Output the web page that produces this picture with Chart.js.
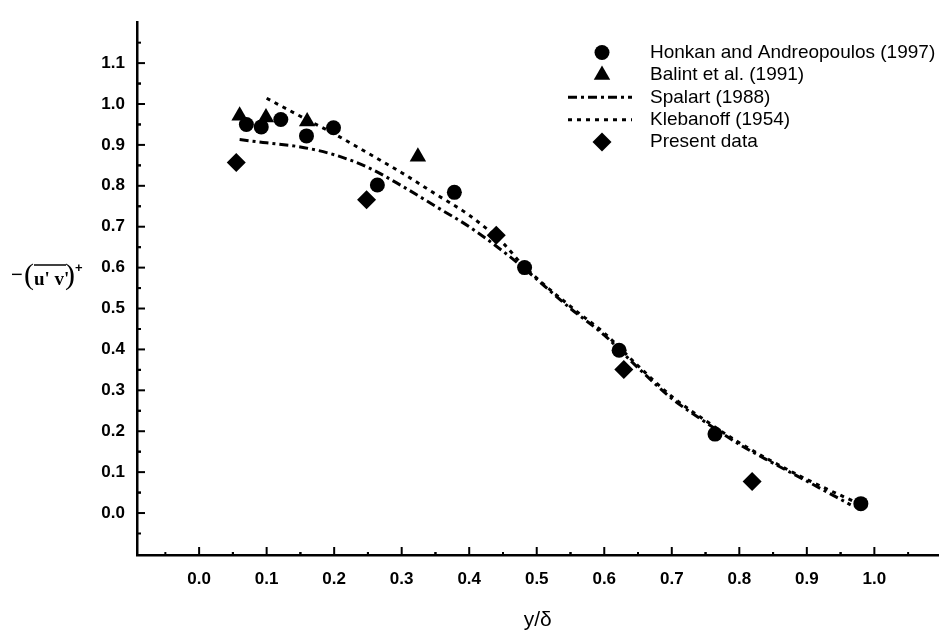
<!DOCTYPE html>
<html>
<head>
<meta charset="utf-8">
<script src="https://cdn.jsdelivr.net/npm/chart.js@4/dist/chart.umd.min.js"></script>
<style>
  html, body { margin: 0; padding: 0; background: #fff; }
  canvas { display: block; }
</style>
</head>
<body>
<canvas id="chart" width="948" height="633"></canvas>
<script>
// values
var honkanX = [0.070, 0.092, 0.121, 0.159, 0.199, 0.264, 0.378, 0.482, 0.622, 0.764, 0.980];
var honkanY = [0.950, 0.944, 0.962, 0.922, 0.942, 0.802, 0.784, 0.600, 0.398, 0.193, 0.023];

var balintX = [0.060, 0.099, 0.160, 0.324];
var balintY = [0.971, 0.967, 0.957, 0.871];

var spalartX = [0.06, 0.10, 0.15, 0.20, 0.25, 0.30, 0.35, 0.40, 0.45, 0.48, 0.55, 0.60, 0.65, 0.70, 0.75, 0.80, 0.85, 0.90, 0.965];
var spalartY = [0.913, 0.905, 0.895, 0.876, 0.845, 0.800, 0.750, 0.700, 0.640, 0.600, 0.500, 0.435, 0.355, 0.280, 0.222, 0.168, 0.122, 0.078, 0.020];

var klebanoffX = [0.10, 0.15, 0.20, 0.25, 0.30, 0.35, 0.40, 0.45, 0.48, 0.55, 0.60, 0.65, 0.70, 0.75, 0.80, 0.85, 0.90, 0.97];
var klebanoffY = [1.014, 0.970, 0.927, 0.880, 0.832, 0.780, 0.728, 0.660, 0.605, 0.505, 0.440, 0.360, 0.285, 0.226, 0.172, 0.125, 0.082, 0.028];

var presentX = [0.055, 0.248, 0.440, 0.629, 0.819];
var presentY = [0.857, 0.766, 0.679, 0.351, 0.077];

var xTickValues = [0, 0.1, 0.2, 0.3, 0.4, 0.5, 0.6, 0.7, 0.8, 0.9, 1.0];
var xTickLabels = ["0.0", "0.1", "0.2", "0.3", "0.4", "0.5", "0.6", "0.7", "0.8", "0.9", "1.0"];
var yTickValues = [0, 0.1, 0.2, 0.3, 0.4, 0.5, 0.6, 0.7, 0.8, 0.9, 1.0, 1.1];
var yTickLabels = ["0.0", "0.1", "0.2", "0.3", "0.4", "0.5", "0.6", "0.7", "0.8", "0.9", "1.0", "1.1"];

function pts(xs, ys) {
  return xs.map(function (x, i) { return { x: x, y: ys[i] }; });
}

// inward tick marks (major + half-step minor)
var tickMarks = {
  id: "tickMarks",
  afterDraw: function (chart) {
    var ctx = chart.ctx, a = chart.chartArea;
    var xs = chart.scales.x, ys = chart.scales.y;
    ctx.save();
    ctx.strokeStyle = "#000";
    ctx.lineWidth = 2;
    xTickValues.forEach(function (v) {
      var px = xs.getPixelForValue(v);
      ctx.beginPath(); ctx.moveTo(px, a.bottom); ctx.lineTo(px, a.bottom - 8); ctx.stroke();
      [v - 0.05, v + 0.05].forEach(function (m) {
        var mx = xs.getPixelForValue(m);
        if (mx > a.left + 2 && mx < a.right) {
          ctx.beginPath(); ctx.moveTo(mx, a.bottom); ctx.lineTo(mx, a.bottom - 3); ctx.stroke();
        }
      });
    });
    yTickValues.forEach(function (v) {
      var py = ys.getPixelForValue(v);
      ctx.beginPath(); ctx.moveTo(a.left, py); ctx.lineTo(a.left + 8, py); ctx.stroke();
      [v - 0.05, v + 0.05].forEach(function (m) {
        var my = ys.getPixelForValue(m);
        if (my > a.top && my < a.bottom - 2) {
          ctx.beginPath(); ctx.moveTo(a.left, my); ctx.lineTo(a.left + 4, my); ctx.stroke();
        }
      });
    });
    ctx.restore();
  }
};

function marker(ctx, style, r, x, y) {
  ctx.beginPath();
  if (style === "circle") {
    ctx.arc(x, y, r, 0, Math.PI * 2);
  } else if (style === "triangle") {
    ctx.moveTo(x, y - r);
    ctx.lineTo(x + r * 0.866, y + r * 0.5);
    ctx.lineTo(x - r * 0.866, y + r * 0.5);
    ctx.closePath();
  } else {
    ctx.moveTo(x, y - r); ctx.lineTo(x + r, y); ctx.lineTo(x, y + r); ctx.lineTo(x - r, y);
    ctx.closePath();
  }
  ctx.fill();
}

// legend in the top right, lines drawn as long samples
var sideLegend = {
  id: "sideLegend",
  afterDraw: function (chart) {
    var ctx = chart.ctx;
    ctx.save();
    ctx.fillStyle = "#000";
    ctx.strokeStyle = "#000";
    ctx.font = '19px "Liberation Sans", Arial, sans-serif';
    ctx.textBaseline = "middle";
    chart.data.datasets.forEach(function (ds, i) {
      var y = 52.5 + i * 22.4;
      if (ds.showLine) {
        ctx.setLineDash(ds.borderDash);
        ctx.lineWidth = ds.borderWidth;
        ctx.beginPath(); ctx.moveTo(568, y); ctx.lineTo(632, y); ctx.stroke();
        ctx.setLineDash([]);
      } else {
        marker(ctx, ds.pointStyle, ds.pointRadius, 602, y);
      }
      ctx.fillText(ds.label, 650, y);
    });
    ctx.restore();
  }
};

// y title: -(u'v')+ with overline
var yTitle = {
  id: "yTitle",
  afterDraw: function (chart) {
    var ctx = chart.ctx;
    ctx.save();
    ctx.fillStyle = "#000";
    ctx.strokeStyle = "#000";
    ctx.textBaseline = "alphabetic";
    ctx.textAlign = "left";
    ctx.font = '20px "Liberation Sans", Arial, sans-serif';
    ctx.fillText("\u2212", 11, 281);
    ctx.font = '30px "Liberation Serif", serif';
    ctx.fillText("(", 24, 284);
    ctx.font = 'bold 19px "Liberation Serif", serif';
    ctx.fillText("u' v'", 34, 285);
    ctx.lineWidth = 1.5;
    ctx.beginPath(); ctx.moveTo(34, 265); ctx.lineTo(66, 265); ctx.stroke();
    ctx.font = '30px "Liberation Serif", serif';
    ctx.fillText(")", 65, 284);
    ctx.font = 'bold 13px "Liberation Sans", Arial, sans-serif';
    ctx.fillText("+", 75, 272);
    ctx.restore();
  }
};

var tickFont = { family: '"Liberation Sans", Arial, sans-serif', size: 17, weight: "bold" };

new Chart(document.getElementById("chart"), {
  type: "scatter",
  data: {
    datasets: [
      {
        label: "Honkan and Andreopoulos (1997)",
        data: pts(honkanX, honkanY),
        pointStyle: "circle", pointRadius: 7.5,
        backgroundColor: "#000", borderColor: "#000", borderWidth: 0
      },
      {
        label: "Balint et al. (1991)",
        data: pts(balintX, balintY),
        pointStyle: "triangle", pointRadius: 9.5,
        backgroundColor: "#000", borderColor: "#000", borderWidth: 0
      },
      {
        label: "Spalart (1988)",
        data: pts(spalartX, spalartY),
        showLine: true, pointRadius: 0,
        borderColor: "#000", borderWidth: 3, borderDash: [9, 4, 3, 4],
        cubicInterpolationMode: "monotone"
      },
      {
        label: "Klebanoff (1954)",
        data: pts(klebanoffX, klebanoffY),
        showLine: true, pointRadius: 0,
        borderColor: "#000", borderWidth: 3, borderDash: [4, 5],
        cubicInterpolationMode: "monotone"
      },
      {
        label: "Present data",
        data: pts(presentX, presentY),
        pointStyle: "rectRot", pointRadius: 9.5,
        backgroundColor: "#000", borderColor: "#000", borderWidth: 0
      }
    ]
  },
  options: {
    responsive: false,
    animation: false,
    layout: { padding: { top: 13, right: 1, left: 0, bottom: 0 } },
    plugins: { legend: { display: false }, tooltip: { enabled: false } },
    scales: {
      x: {
        type: "linear",
        min: -0.092,
        max: 1.095,
        afterBuildTicks: function (s) { s.ticks = xTickValues.map(function (v) { return { value: v }; }); },
        afterFit: function (s) { s.height = 78; },
        grid: { display: false, drawTicks: false },
        border: { display: true, color: "#000", width: 2.5 },
        ticks: {
          color: "#000", font: tickFont, padding: 14, maxRotation: 0, autoSkip: false,
          callback: function (v, i) { return xTickLabels[i]; }
        },
        title: {
          display: true, text: "y/\u03b4", color: "#000", padding: 0,
          font: { family: '"Liberation Sans", Arial, sans-serif', size: 21 }
        }
      },
      y: {
        type: "linear",
        min: -0.1026,
        max: 1.2,
        afterBuildTicks: function (s) { s.ticks = yTickValues.map(function (v) { return { value: v }; }); },
        afterFit: function (s) { s.width = 137; },
        grid: { display: false, drawTicks: false },
        border: { display: true, color: "#000", width: 2.5 },
        ticks: {
          color: "#000", font: tickFont, padding: 12, autoSkip: false,
          callback: function (v, i) { return yTickLabels[i]; }
        }
      }
    }
  },
  plugins: [tickMarks, sideLegend, yTitle]
});
</script>
</body>
</html>
